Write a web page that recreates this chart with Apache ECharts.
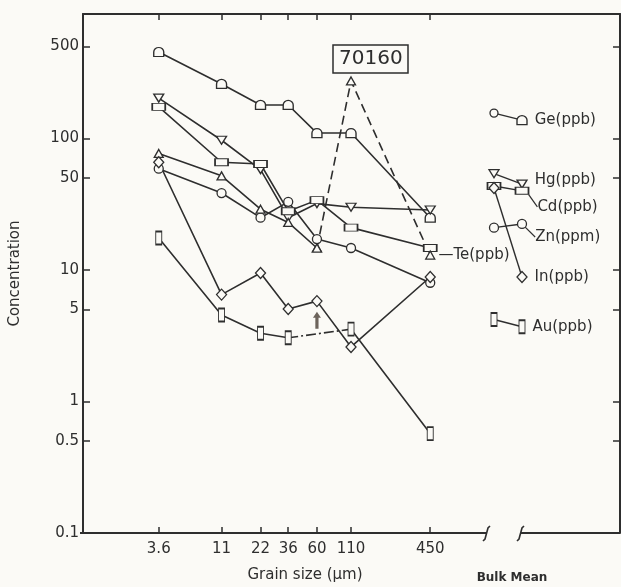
<!DOCTYPE html>
<html>
<head>
<meta charset="utf-8">
<script src="https://cdn.jsdelivr.net/npm/echarts@6/dist/echarts.min.js"></script>
<style>
  html, body { margin: 0; padding: 0; background: #fbfaf6; }
  #chart { width: 621px; height: 587px; }
</style>
</head>
<body>
<div id="chart"></div>
<script>
// Grain-size fractions (µm) and their concentrations
const grainSizes = [3.6, 11, 22, 36, 60, 110, 450];
const yTicks = [0.1, 0.5, 1, 5, 10, 50, 100, 500];

const ge = [455, 260, 180, 180, 110, 110, 25];
const hg = [203, 97, 58, 25, 32, 30, 28.6];
const cd = [174, 66, 64, 28, 34, 21, 14.7];
const zn = [59, 38.5, 25, 33, 17.2, 14.7, 8];
const te = [77, 52, 29, 23, 14.7, 274, 13];
const inn = [66, 6.5, 9.5, 5.05, 5.8, 2.6, 8.85];
const au = [17.5, 4.55, 3.3, 3.05, null, 3.55, 0.57];

// Bulk mean values (two estimates per element)
const bulkGe = [156, 138];
const bulkHg = [54, 45];
const bulkCd = [43.5, 40];
const bulkZn = [21, 22.4];
const bulkIn = [42, 8.85];
const bulkAu = [4.2, 3.7];

// Arrow pointing up from the 60 µm Au fraction
const auArrow = [[60, 4.15]];

const INK = '#2e2e2e';
const BG = '#fbfaf6';
const FONT = 'DejaVu Sans';

const SYM = {
  dome: 'path://M0,10 L0,5 A5,5 0 0 1 10,5 L10,10 Z',
  down: 'path://M0,0 L10,0 L5,9 Z',
  up: 'path://M5,0 L10,9 L0,9 Z',
  arrow: 'path://M5,0 L10,6 L7,6 L7,17 L3,17 L3,6 L0,6 Z'
};

function pairs(vals, from, to) {
  const out = [];
  for (let i = from; i <= to; i++) out.push([grainSizes[i], vals[i]]);
  return out;
}

const markerStyle = { color: BG, borderColor: INK, borderWidth: 1.3 };
const lineBase = { color: INK, width: 1.6 };
const labelText = { color: INK, fontFamily: FONT, fontSize: 15 };

function mainSeries(vals, symbol, size, extra) {
  return Object.assign({
    type: 'line',
    xAxisIndex: 0, yAxisIndex: 0,
    data: pairs(vals, 0, vals.length - 1),
    symbol: symbol, symbolSize: size,
    showAllSymbol: true,
    connectNulls: false,
    itemStyle: markerStyle,
    lineStyle: lineBase,
    emphasis: { disabled: true },
    z: 3
  }, extra || {});
}

function bulkSeries(vals, symbol, size, name, labelExtra, seriesExtra) {
  return Object.assign({
    type: 'line',
    xAxisIndex: 2, yAxisIndex: 2,
    data: [vals[0], {
      value: vals[1],
      label: Object.assign({
        show: true, position: 'right', distance: 7, formatter: name
      }, labelText, labelExtra || {})
    }],
    symbol: symbol, symbolSize: size,
    itemStyle: markerStyle,
    lineStyle: { color: INK, width: 1.4 },
    emphasis: { disabled: true },
    z: 3
  }, seriesExtra || {});
}

const gridLeft = 80, gridTop = 14, gridRight = 1, gridBottom = 54;
const W = 621, H = 587;
const axisY = H - gridBottom;
const breakA = 487, breakB = 521;

const chart = echarts.init(document.getElementById('chart'));

const tickFmt = v => String(+(+v).toPrecision(3));
const leader = { show: true, lineStyle: { color: INK, width: 1.2 } };

chart.setOption({
  backgroundColor: BG,
  animation: false,
  title: {
    text: '70160', left: 333, top: 45,
    borderColor: INK, borderWidth: 1.5, padding: [4, 6],
    textStyle: { fontFamily: FONT, fontSize: 20, fontWeight: 'normal', color: INK }
  },
  grid: [
    { left: gridLeft, top: gridTop, right: gridRight, bottom: gridBottom },
    { left: 480, top: gridTop, width: 56, bottom: gridBottom }
  ],
  xAxis: [
    {
      type: 'log', gridIndex: 0, position: 'bottom', min: 0.936, max: 13150,
      axisLine: { show: false },
      axisTick: { show: true, inside: true, length: 6, customValues: grainSizes, lineStyle: { color: INK, width: 1.5 } },
      axisLabel: { customValues: grainSizes, formatter: tickFmt, margin: 9, color: INK, fontFamily: FONT, fontSize: 15 },
      splitLine: { show: false }, minorTick: { show: false }
    },
    {
      type: 'log', gridIndex: 0, position: 'top', min: 0.936, max: 13150,
      axisLine: { show: true, lineStyle: { color: INK, width: 2 } },
      axisTick: { show: true, inside: true, length: 6, customValues: grainSizes, lineStyle: { color: INK, width: 1.5 } },
      axisLabel: { show: false },
      splitLine: { show: false }
    },
    {
      type: 'category', gridIndex: 1, data: ['b1', 'b2'], boundaryGap: true, show: false
    }
  ],
  yAxis: [
    {
      type: 'log', gridIndex: 0, position: 'left', min: 0.1, max: 885,
      name: 'Concentration', nameLocation: 'middle', nameGap: 60,
      nameTextStyle: { fontFamily: FONT, fontSize: 15, color: INK },
      axisLine: { show: true, lineStyle: { color: INK, width: 2 } },
      axisTick: { show: true, inside: true, length: 7, customValues: yTicks, lineStyle: { color: INK, width: 1.5 } },
      axisLabel: { customValues: yTicks, formatter: tickFmt, margin: 4, color: INK, fontFamily: FONT, fontSize: 15 },
      splitLine: { show: false }
    },
    {
      type: 'log', gridIndex: 0, position: 'right', min: 0.1, max: 885,
      axisLine: { show: true, lineStyle: { color: INK, width: 2 } },
      axisTick: { show: true, inside: true, length: 7, customValues: yTicks, lineStyle: { color: INK, width: 1.5 } },
      axisLabel: { show: false },
      splitLine: { show: false }
    },
    {
      type: 'log', gridIndex: 1, min: 0.1, max: 885, show: false
    }
  ],
  series: [
    mainSeries(ge, SYM.dome, [10, 9]),
    mainSeries(hg, SYM.down, [10, 8]),
    mainSeries(cd, 'rect', [13, 7]),
    mainSeries(zn, 'circle', 9),
    mainSeries(te, SYM.up, [9, 8], { data: pairs(te, 0, 4) }),
    mainSeries(te, SYM.up, [9, 8], {
      data: pairs(te, 4, 6).map((p, i, arr) => i === arr.length - 1
        ? { value: p, label: Object.assign({ show: true, position: 'right', distance: 3, formatter: '—Te(ppb)' }, labelText) }
        : p),
      lineStyle: { color: INK, width: 1.6, type: [9, 5] }
    }),
    mainSeries(inn, 'diamond', [10, 11]),
    mainSeries(au, 'rect', [6, 13]),
    // dash-dot link across the missing 60 µm gold value
    {
      type: 'line', xAxisIndex: 0, yAxisIndex: 0,
      data: [[grainSizes[3], au[3]], [grainSizes[5], au[5]]],
      symbol: 'none', lineStyle: { color: INK, width: 1.6, type: [10, 3, 2, 3] },
      emphasis: { disabled: true }, z: 2
    },
    {
      type: 'scatter', xAxisIndex: 0, yAxisIndex: 0,
      data: auArrow, symbol: SYM.arrow, symbolSize: [8, 17],
      itemStyle: { color: '#4a3f36' }, emphasis: { disabled: true }
    },
    bulkSeries(bulkGe, SYM.dome, [10, 9], 'Ge(ppb)', null, {
      data: [{ value: bulkGe[0], symbol: 'circle', symbolSize: 8 }, {
        value: bulkGe[1],
        label: Object.assign({ show: true, position: 'right', distance: 7, formatter: 'Ge(ppb)' }, labelText)
      }]
    }),
    bulkSeries(bulkHg, SYM.down, [10, 8], 'Hg(ppb)', { offset: [0, -4] }),
    bulkSeries(bulkCd, 'rect', [13, 7], 'Cd(ppb)', { distance: 4 }, {
      labelLayout: { dx: 4, dy: 16 }, labelLine: leader
    }),
    bulkSeries(bulkZn, 'circle', 9, 'Zn(ppm)', { distance: 4 }, {
      labelLayout: { dx: 4, dy: 13 }, labelLine: leader
    }),
    bulkSeries(bulkIn, 'diamond', [10, 11], 'In(ppb)'),
    bulkSeries(bulkAu, 'rect', [6, 13], 'Au(ppb)')
  ],
  graphic: [
    { type: 'line', shape: { x1: gridLeft, y1: axisY, x2: breakA, y2: axisY }, style: { stroke: INK, lineWidth: 2 } },
    { type: 'line', shape: { x1: breakB, y1: axisY, x2: W - gridRight, y2: axisY }, style: { stroke: INK, lineWidth: 2 } },
    { type: 'polyline', shape: { points: [[breakA + 3, axisY - 7], [breakA + 1, axisY - 5], [breakA - 2, axisY + 6], [breakA - 4, axisY + 8]] }, style: { stroke: INK, lineWidth: 1.6, fill: null } },
    { type: 'polyline', shape: { points: [[breakB + 3, axisY - 7], [breakB + 1, axisY - 5], [breakB - 2, axisY + 6], [breakB - 4, axisY + 8]] }, style: { stroke: INK, lineWidth: 1.6, fill: null } },
    { type: 'text', x: 305, y: 575, style: { text: 'Grain size (μm)', fill: INK, font: '15px "DejaVu Sans"', align: 'center', verticalAlign: 'middle' } },
    { type: 'text', x: 512, y: 578, style: { text: 'Bulk Mean', fill: INK, font: 'bold 12px "DejaVu Sans"', align: 'center', verticalAlign: 'middle' } }
  ]
});
</script>
</body>
</html>
